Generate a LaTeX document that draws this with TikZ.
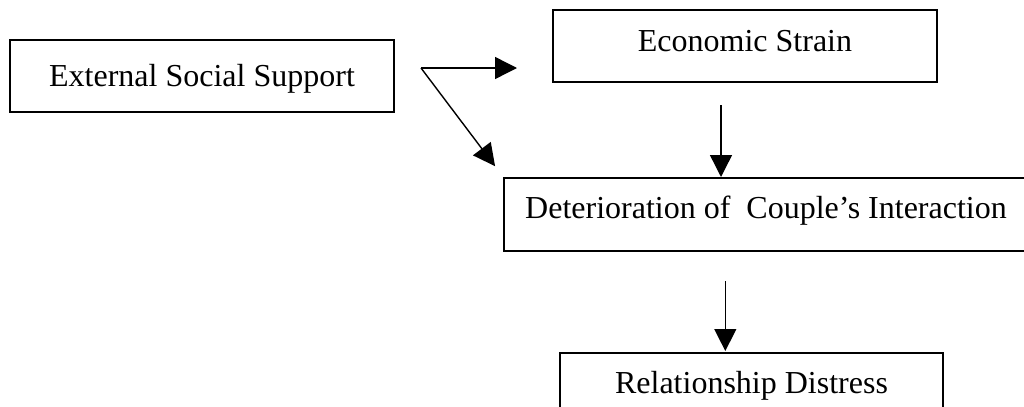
\documentclass[tikz,border=0pt]{standalone}
\usepackage{fontspec}
\setmainfont{Liberation Serif}
\usetikzlibrary{arrows.meta,calc}
\begin{document}
\begin{tikzpicture}[x=0.5pt,y=-0.5pt,
  box/.style={draw, line width=0.8pt, rectangle, inner sep=0pt, outer sep=0pt,
    font=\fontsize{16}{19}\selectfont, text height=10.5pt},
  arr/.style={line width=0.7pt, -{Triangle[length=11pt,width=11pt]}}]
\useasboundingbox (0,0) rectangle (1024,407);
\clip (0,0) rectangle (1024,407);
\node[box, minimum width=192pt, minimum height=36pt, text depth=0pt] (ess) at (202,76) {External Social Support};
\node[box, minimum width=192pt, minimum height=36pt, text depth=4.5pt] (es) at (745,46) {Economic Strain};
\node[box, minimum width=262pt, minimum height=36.5pt, text depth=7pt] (dci) at (766,214.5) {Deterioration of\ \ Couple’s Interaction};
\node[box, minimum width=191.5pt, minimum height=36.5pt, text depth=7pt] (rd) at (751.5,389.5) {Relationship Distress};
\coordinate (split) at (421,68);
\draw[arr, shorten >=18pt] (split) -- (es.west |- split);
\draw[arr, shorten >=7.4pt] (split) -- (dci.north west);
\coordinate (esout) at ([xshift=-12pt]es.south);
\draw[arr, shorten <=11.5pt, shorten >=0.5pt] (esout) -- (esout |- dci.north);
\coordinate (rdin) at ([xshift=-13.1pt]rd.north);
\draw[arr, shorten <=15pt, shorten >=1pt] (rdin |- dci.south) -- (rdin);
\end{tikzpicture}
\end{document}
